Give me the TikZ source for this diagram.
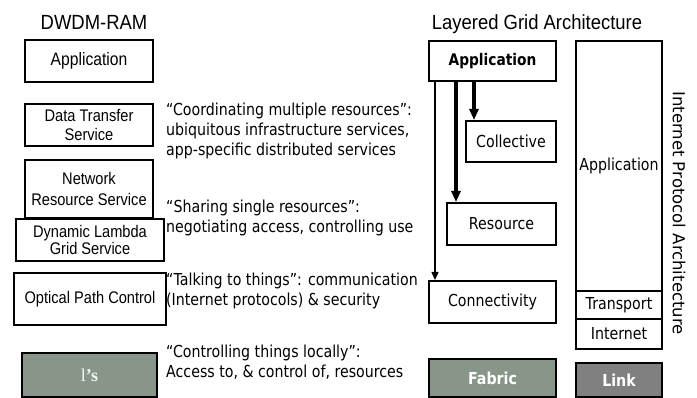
\documentclass[tikz,border=0pt]{standalone}
\usepackage{fontspec}
\usepackage{tikz}
\usetikzlibrary{arrows.meta, positioning, calc}
\setmainfont{Liberation Sans}
\newfontfamily\arialfont[FakeStretch=0.87]{Liberation Sans}
\newfontfamily\titlefont[FakeStretch=0.9]{Liberation Sans}
\newfontfamily\tahomafont[FakeStretch=0.86]{DejaVu Sans}
\newfontfamily\widefont{DejaVu Sans}
\newfontfamily\lambdafont{Liberation Serif}
\definecolor{gridfabric}{HTML}{879689}
\definecolor{gridlink}{HTML}{808080}

\begin{document}
\begin{tikzpicture}[
    x=1pt, y=-1pt,
    title/.style={anchor=base, inner sep=0pt, font=\titlefont\fontsize{20.5}{22}\selectfont},
    dwdm/.style={rectangle, draw=black, fill=white, line width=2pt, align=center, inner sep=0pt, font=\arialfont\fontsize{16.8}{19}\selectfont},
    layer/.style={rectangle, draw=black, fill=white, line width=2pt, align=center, inner sep=0pt, font=\tahomafont\fontsize{16.5}{18}\selectfont},
    phys/.style={layer, text=white, font=\tahomafont\bfseries\fontsize{16.5}{18}\selectfont},
    note/.style={anchor=west, align=left, inner sep=0pt, font=\tahomafont\fontsize{16.5}{20}\selectfont},
    thinarrow/.style={-{Triangle[length=8pt, width=7pt]}, line width=1.4pt},
    thickarrow/.style={-{Triangle[length=11pt, width=9pt]}, line width=4pt}
]
\useasboundingbox (0,0) rectangle (697,398);

\node[title] (dwdmtitle) at (94,30) {DWDM-RAM};
\node[title] (lgatitle) at (537,30) {Layered Grid Architecture};

\node[dwdm, minimum width=128pt, minimum height=42pt, font=\arialfont\fontsize{18}{19}\selectfont] (dApp) at (89,61) {Application};
\node[dwdm, minimum width=128pt, minimum height=42pt] (dTransfer) at (89,125) {Data Transfer\\Service};
\node[dwdm, minimum width=128pt, minimum height=58pt, font=\arialfont\fontsize{16.8}{21}\selectfont] (dNetwork) at (89,189) {Network\\Resource Service};
\node[dwdm, minimum width=148pt, minimum height=42pt, font=\arialfont\fontsize{16.8}{17}\selectfont] (dLambda) at (90,240) {Dynamic Lambda\\Grid Service};
\node[dwdm, minimum width=152pt, minimum height=52pt] (dOptical) at (90,299) {Optical Path Control};
\node[dwdm, fill=gridfabric, text=white!92!gray, minimum width=135pt, minimum height=44pt, font=\lambdafont\fontsize{18}{20}\selectfont] (dLambdas) at (89.5,375) {l\textbf{’s}};

\node[note] (nCoord) at (166,131) {“Coordinating multiple resources”:\\ubiquitous infrastructure services,\\app-specific distributed services};
\node[note] (nShare) at (166,218) {“Sharing single resources”:\\negotiating access, controlling use};
\node[note] (nTalk) at (166,291) {“Talking to things”: communication\\(Internet protocols) \& security};
\node[note] (nLocal) at (166,362) {“Controlling things locally”:\\Access to, \& control of, resources};

\node[layer, minimum width=127pt, minimum height=40pt, font=\tahomafont\bfseries\fontsize{16}{18}\selectfont] (gApp) at (492.5,61) {Application};
\node[layer, minimum width=90pt, minimum height=41pt] (gColl) at (511,141.5) {Collective};
\node[layer, minimum width=109pt, minimum height=42pt] (gRes) at (501.5,224) {Resource};
\node[layer, minimum width=127pt, minimum height=42pt] (gConn) at (492.5,302) {Connectivity};
\node[phys, fill=gridfabric, minimum width=127pt, minimum height=38pt] (gFab) at (492.5,378) {Fabric};

\node[layer, minimum width=86pt, minimum height=250pt] (iApp) at (619,166) {Application};
\node[layer, minimum width=86pt, minimum height=28pt] (iTrans) at (619,305) {Transport};
\node[layer, minimum width=86pt, minimum height=30pt] (iNet) at (619,334) {Internet};
\node[phys, fill=gridlink, minimum width=86pt, minimum height=34pt] (iLink) at (619,380) {Link};
\node[rotate=-90, inner sep=0pt, font=\widefont\fontsize{16.5}{18}\selectfont] (ipa) at (679,213) {Internet Protocol Architecture};

\draw[thinarrow] ([xshift=7pt]gApp.south west) -- ([xshift=7pt]gConn.north west);
\draw[thickarrow] ([xshift=28pt]gApp.south west) -- ([xshift=28pt]gApp.south west |- gRes.north);
\draw[thickarrow] ([xshift=46pt]gApp.south west) -- ([xshift=46pt]gApp.south west |- gColl.north);
\end{tikzpicture}
\end{document}
